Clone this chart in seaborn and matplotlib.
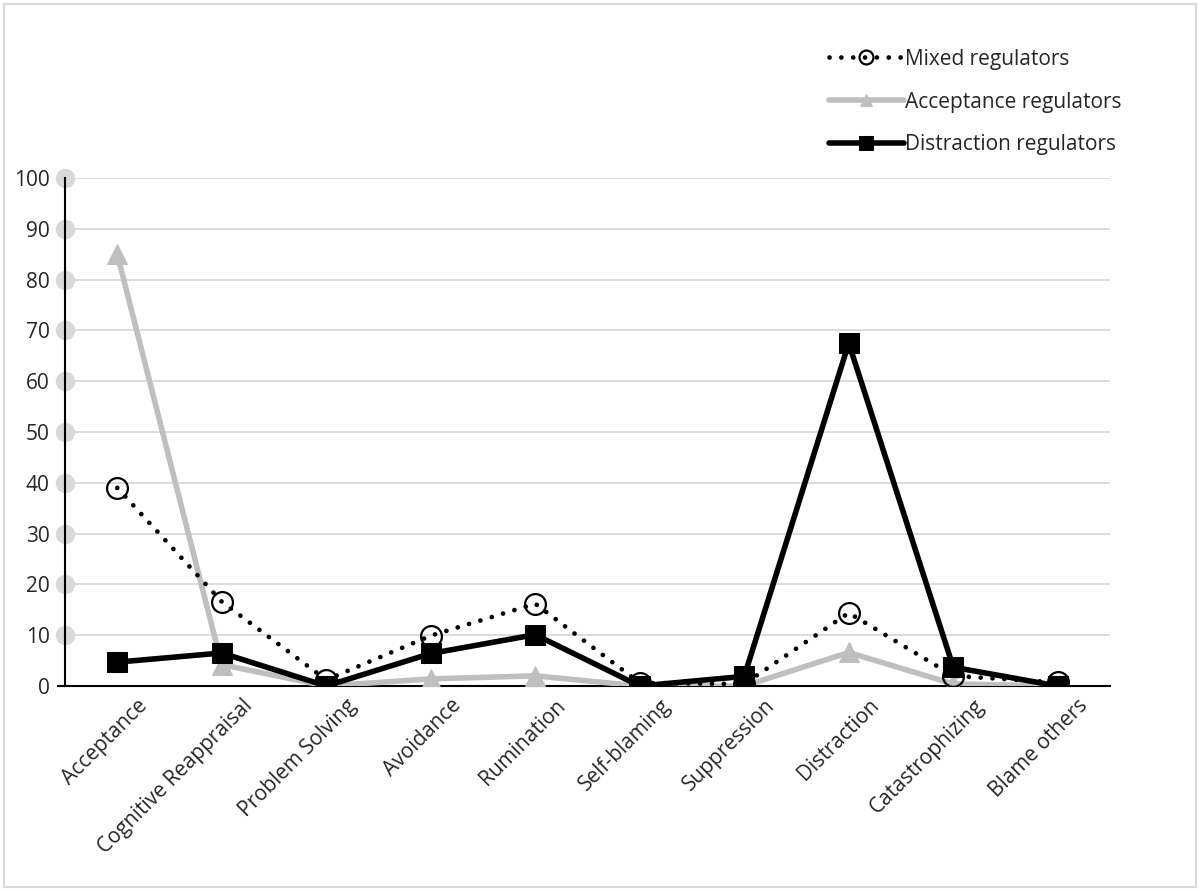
import seaborn as sns
import matplotlib.pyplot as plt
import matplotlib.transforms as mtransforms
import numpy as np
import pandas as pd
from matplotlib.patches import Rectangle

# Data
strategies = ["Acceptance", "Cognitive Reappraisal", "Problem Solving", "Avoidance",
              "Rumination", "Self-blaming", "Suppression", "Distraction",
              "Catastrophizing", "Blame others"]
mixed = [39, 16.6, 1.2, 9.9, 16.2, 0.6, 0.4, 14.4, 2.0, 0.7]
acceptance = [85, 4.2, 0, 1.4, 2.0, 0, 0, 6.6, 0.4, 0]
distraction = [4.7, 6.5, 0, 6.4, 10.1, 0, 1.9, 67.5, 3.7, 0]
y_ticks = [0, 10, 20, 30, 40, 50, 60, 70, 80, 90, 100]

df = pd.DataFrame({"strategy": strategies, "Mixed regulators": mixed,
                   "Acceptance regulators": acceptance,
                   "Distraction regulators": distraction})

sns.set_style("white")
plt.rcParams['font.family'] = ['Open Sans', 'DejaVu Sans']

fig = plt.figure(figsize=(12, 8.91), dpi=100)
ax = fig.add_axes([65 / 1200, 1 - 686 / 891, (1110 - 65) / 1200, (686 - 178) / 891])

# light grey border around the chart area
fig.patches.append(Rectangle((0.003, 0.004), 0.994, 0.992, transform=fig.transFigure,
                             fill=False, edgecolor="#D9D9D9", linewidth=1.5))

sns.lineplot(data=df, x="strategy", y="Mixed regulators", ax=ax, sort=False,
             color="black", linestyle=(0, (0.01, 2.5)), linewidth=3.4,
             dash_capstyle="round", marker="o", markersize=15,
             markerfacecolor="none", markeredgecolor="black", markeredgewidth=1.6,
             label="Mixed regulators", zorder=4)
sns.lineplot(data=df, x="strategy", y="Acceptance regulators", ax=ax, sort=False,
             color="#BFBFBF", linewidth=4.0, marker="^", markersize=14,
             markeredgecolor="#BFBFBF", label="Acceptance regulators", zorder=3)
sns.lineplot(data=df, x="strategy", y="Distraction regulators", ax=ax, sort=False,
             color="black", linewidth=4.0, marker="s", markersize=14,
             markeredgecolor="black", label="Distraction regulators", zorder=5)

# grey dots sitting on the value axis
ax.plot(np.zeros(len(y_ticks) - 1), y_ticks[1:], "o", color="#D9D9D9", markersize=13,
        transform=ax.get_yaxis_transform(), clip_on=False, zorder=1)

ax.set_xlim(-0.5, len(strategies) - 0.5)
ax.set_ylim(0, 100)
ax.set_yticks(y_ticks)
ax.yaxis.grid(True, color="#D9D9D9", linewidth=1.3)
ax.set_axisbelow(True)
ax.set_xlabel("")
ax.set_ylabel("")

for side in ["top", "right"]:
    ax.spines[side].set_visible(False)
ax.spines["left"].set_color("black")
ax.spines["left"].set_linewidth(1.5)
ax.spines["bottom"].set_color("black")
ax.spines["bottom"].set_linewidth(1.5)
ax.spines["left"].set_zorder(2)

ax.tick_params(axis="y", left=True, length=6, width=1.5, color="black",
               labelsize=15, pad=5)
ax.tick_params(axis="x", bottom=False, labelsize=15, pad=3)
offset = mtransforms.ScaledTranslation(0.2, 0, fig.dpi_scale_trans)
for lab in ax.get_xticklabels():
    lab.set_rotation(45)
    lab.set_ha("right")
    lab.set_rotation_mode("anchor")
    lab.set_transform(lab.get_transform() + offset)

leg = ax.legend(loc="upper right", bbox_to_anchor=(1140 / 1200, 1 - 30 / 891),
                bbox_transform=fig.transFigure, frameon=False, fontsize=15,
                handlelength=3.6, handletextpad=0.05, labelspacing=1.05)
for h, ms in zip(leg.legend_handles, [10, 9, 10]):
    h.set_markersize(ms)

fig.savefig("out.png", dpi=100)
